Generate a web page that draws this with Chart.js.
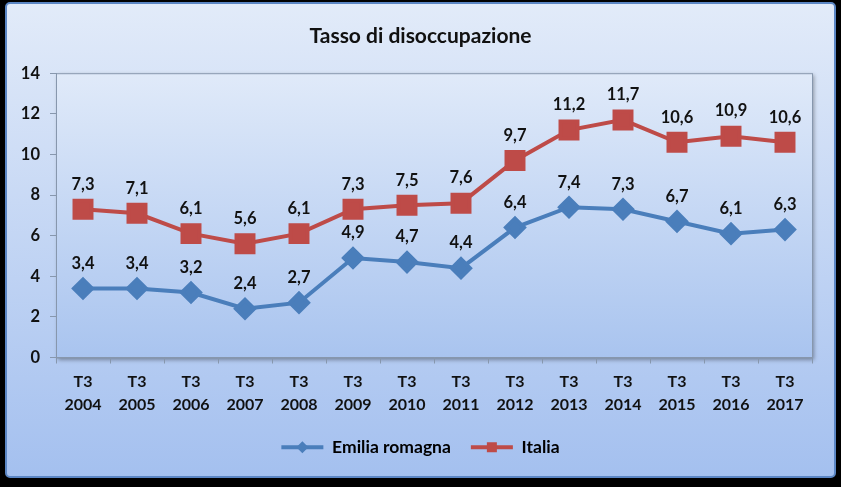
<!DOCTYPE html>
<html>
<head>
<meta charset="utf-8">
<script src="https://cdn.jsdelivr.net/npm/chart.js@4.4.0/dist/chart.umd.min.js"></script>
<style>
  html, body { margin: 0; padding: 0; background: #000; }
  #wrap { width: 841px; height: 487px; }
</style>
</head>
<body>
<div id="wrap"><canvas id="chart" width="841" height="487"></canvas></div>
<script>
    var anni = ['2004', '2005', '2006', '2007', '2008', '2009', '2010', '2011', '2012', '2013', '2014', '2015', '2016', '2017'];
    var trimestre = 'T3';
    var emilia = [3.4, 3.4, 3.2, 2.4, 2.7, 4.9, 4.7, 4.4, 6.4, 7.4, 7.3, 6.7, 6.1, 6.3];
    var italia = [7.3, 7.1, 6.1, 5.6, 6.1, 7.3, 7.5, 7.6, 9.7, 11.2, 11.7, 10.6, 10.9, 10.6];
    var y_min = 0, y_max = 14, y_step = 2;

    var labels = anni.map(function (a) { return [trimestre, a]; });
    var font_name = 'Lato, "Open Sans", sans-serif';

    // frame + plot area background
    var sfondo = {
        id: 'sfondo',
        beforeDraw: function (chart) {
            var ctx = chart.ctx;
            ctx.save();
            ctx.fillStyle = '#000';
            ctx.fillRect(0, 0, chart.width, chart.height);
            var g = ctx.createLinearGradient(0, 3, 0, 477);
            g.addColorStop(0, '#e2ebf9');
            g.addColorStop(1, '#a4c0ef');
            ctx.beginPath();
            ctx.roundRect(6, 3, 829, 474, 4);
            ctx.fillStyle = g;
            ctx.fill();
            ctx.lineWidth = 2;
            ctx.strokeStyle = '#5b86c4';
            ctx.stroke();

            var a = chart.chartArea;
            ctx.shadowColor = 'rgba(0,0,0,0.35)';
            ctx.shadowBlur = 4;
            ctx.shadowOffsetX = 2;
            ctx.shadowOffsetY = 2;
            var g2 = ctx.createLinearGradient(0, a.top, 0, a.bottom);
            g2.addColorStop(0, '#e0eaf9');
            g2.addColorStop(1, '#a9c4ef');
            ctx.fillStyle = g2;
            ctx.fillRect(a.left, a.top, a.right - a.left, a.bottom - a.top);
            ctx.shadowColor = 'transparent';
            ctx.lineWidth = 1;
            ctx.strokeStyle = '#8797ad';
            ctx.strokeRect(a.left + 0.5, a.top + 0.5, a.right - a.left, a.bottom - a.top);
            ctx.restore();
        },
        afterDatasetsDraw: function (chart) {
            var ctx = chart.ctx;
            ctx.save();
            ctx.font = 'bold 16.5px ' + font_name;
            ctx.fillStyle = '#111';
            ctx.textAlign = 'center';
            ctx.textBaseline = 'middle';
            chart.data.datasets.forEach(function (ds, i) {
                chart.getDatasetMeta(i).data.forEach(function (pt, j) {
                    ctx.fillText(String(ds.data[j]).replace('.', ','), pt.x, pt.y - 25);
                });
            });
            ctx.restore();
        },
        afterDraw: function (chart) {
            // markers on top of the legend lines
            var ctx = chart.ctx;
            var boxes = chart.legend.legendHitBoxes;
            ctx.save();
            chart.data.datasets.forEach(function (ds, i) {
                var b = boxes[i];
                var cx = b.left + 21, cy = b.top + b.height / 2;
                ctx.fillStyle = ds.borderColor;
                ctx.beginPath();
                if (ds.pointStyle === 'rectRot') {
                    ctx.moveTo(cx, cy - 6); ctx.lineTo(cx + 6, cy); ctx.lineTo(cx, cy + 6); ctx.lineTo(cx - 6, cy);
                } else {
                    ctx.rect(cx - 5, cy - 5, 10, 10);
                }
                ctx.closePath();
                ctx.fill();
            });
            ctx.restore();
        }
    };

    new Chart(document.getElementById('chart'), {
        type: 'line',
        data: {
            labels: labels,
            datasets: [{
                label: 'Emilia romagna',
                data: emilia,
                borderColor: '#4a7ebb',
                backgroundColor: '#4a7ebb',
                borderWidth: 4,
                pointStyle: 'rectRot',
                pointRadius: 9,
                pointHoverRadius: 9,
                fill: false
            }, {
                label: 'Italia',
                data: italia,
                borderColor: '#be4b48',
                backgroundColor: '#be4b48',
                borderWidth: 4,
                pointStyle: 'rect',
                pointRadius: 12,
                pointHoverRadius: 12,
                fill: false
            }]
        },
        options: {
            responsive: false,
            animation: false,
            layout: { padding: { left: 0, right: 0, top: 0, bottom: 21 } },
            plugins: {
                title: {
                    display: true,
                    text: 'Tasso di disoccupazione',
                    color: '#111',
                    font: { family: font_name, size: 21, weight: 'bold' },
                    padding: { top: 24, bottom: 24 }
                },
                legend: {
                    position: 'bottom',
                    labels: {
                        color: '#111',
                        font: { family: font_name, size: 17.5, weight: 'bold' },
                        boxWidth: 42,
                        boxHeight: 4,
                        padding: 20,
                        generateLabels: function (chart) {
                            return chart.data.datasets.map(function (ds, i) {
                                return {
                                    text: ds.label,
                                    fillStyle: ds.borderColor,
                                    strokeStyle: ds.borderColor,
                                    lineWidth: 0,
                                    datasetIndex: i
                                };
                            });
                        }
                    }
                },
                tooltip: { enabled: false }
            },
            scales: {
                x: {
                    offset: true,
                    grid: { offset: true, drawOnChartArea: false, tickLength: 6, color: '#8797ad' },
                    border: { color: '#8797ad' },
                    ticks: {
                        color: '#111',
                        padding: 7,
                        maxRotation: 0,
                        font: { family: font_name, size: 16, weight: 'bold', lineHeight: 1.45 }
                    },
                    afterFit: function (s) { s.height = 61; }
                },
                y: {
                    min: y_min,
                    max: y_max,
                    grid: { drawOnChartArea: false, tickLength: 6, color: '#8797ad' },
                    border: { color: '#8797ad' },
                    ticks: {
                        stepSize: y_step,
                        color: '#111',
                        padding: 10,
                        font: { family: font_name, size: 16.5, weight: 'bold' }
                    },
                    afterFit: function (s) { s.width = 56; }
                },
                // empty right margin, so title and legend stay centred on the whole frame
                margine: {
                    position: 'right',
                    grid: { display: false },
                    border: { display: false },
                    ticks: { display: false },
                    afterFit: function (s) { s.width = 29; }
                }
            }
        },
        plugins: [sfondo]
    });
</script>
</body>
</html>
